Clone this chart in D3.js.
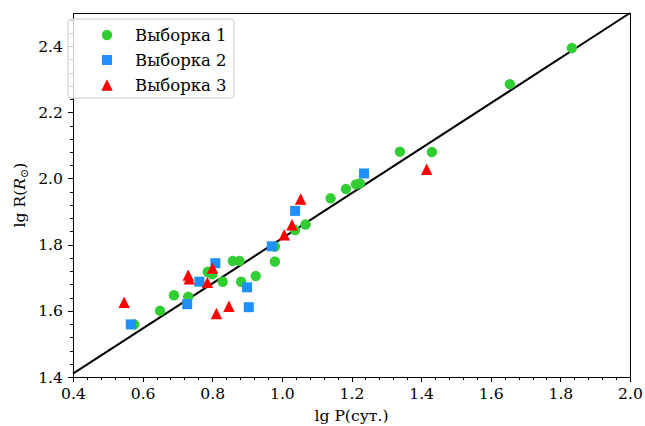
<!DOCTYPE html>
<html lang='ru'>
  <head>
    <meta charset='utf-8'>
    <title>lg R vs lg P</title>
    <script type='text/javascript' src='https://cdn.jsdelivr.net/npm/d3@7'></script>
    <style type='text/css'>
    body { margin: 0; background: #fff; }
    .axis path, .axis line {
      fill: none;
      stroke: black;
      shape-rendering: crispEdges;
    }
    </style>
  </head>
  <body>
    <script type='text/javascript'>

    // Выборка 1 (circles)
    var sample1 = [
      [1.833, 2.394], [1.655, 2.285], [1.339, 2.081], [1.431, 2.080],
      [1.140, 1.940], [1.184, 1.968], [1.213, 1.982], [1.224, 1.985],
      [1.038, 1.844], [1.068, 1.861], [0.980, 1.794], [0.980, 1.749],
      [0.925, 1.705], [0.859, 1.751], [0.878, 1.751], [0.883, 1.688],
      [0.830, 1.688], [0.800, 1.710], [0.787, 1.718], [0.650, 1.600],
      [0.690, 1.647], [0.731, 1.643], [0.576, 1.559]
    ];
    // Выборка 2 (squares)
    var sample2 = [
      [0.566, 1.559], [0.728, 1.620], [0.763, 1.688], [0.809, 1.744],
      [0.900, 1.671], [0.905, 1.611], [0.971, 1.795], [1.038, 1.902],
      [1.236, 2.015]
    ];
    // Выборка 3 (triangles)
    var sample3 = [
      [0.547, 1.626], [0.731, 1.708], [0.734, 1.697], [0.786, 1.686],
      [0.801, 1.729], [0.812, 1.592], [0.848, 1.614], [1.007, 1.830],
      [1.029, 1.860], [1.054, 1.938], [1.416, 2.028]
    ];
    var fitLine = [[0.4, 1.41], [2.0, 2.5]];

    var xTicks = [0.4, 0.6, 0.8, 1.0, 1.2, 1.4, 1.6, 1.8, 2.0];
    var yTicks = [1.4, 1.6, 1.8, 2.0, 2.2, 2.4];
    var legendNames = ['Выборка 1', 'Выборка 2', 'Выборка 3'];
    var colors = ['#32cd32', '#1e90ff', '#ff0000'];

    var w = 645;
    var h = 426;
    var padL = 73, padR = 630, padT = 13, padB = 377;
    var font = "'DejaVu Serif', serif";
    var fsize = '15.6px';

    var svg = d3.select('body')
                .append('svg')
                .attr('width', w)
                .attr('height', h);

    var xScale = d3.scaleLinear().domain([0.4, 2.0]).range([padL, padR]);
    var yScale = d3.scaleLinear().domain([1.4, 2.5]).range([padB, padT]);

    var xMinor = d3.range(0.4, 2.0001, 0.04);
    var yMinor = d3.range(1.4, 2.5001, 0.04);

    // minor ticks
    svg.append('g')
       .attr('class', 'x axis')
       .attr('transform', 'translate(0,' + padB + ')')
       .call(d3.axisBottom(xScale).tickValues(xMinor).tickSize(3).tickFormat(''))
       .select('.domain').remove();
    svg.append('g')
       .attr('class', 'y axis')
       .attr('transform', 'translate(' + padL + ',0)')
       .call(d3.axisLeft(yScale).tickValues(yMinor).tickSize(3).tickFormat(''))
       .select('.domain').remove();

    var xAxis = d3.axisBottom(xScale).tickValues(xTicks).tickSize(5).tickPadding(6)
                  .tickFormat(d3.format('.1f'));
    var yAxis = d3.axisLeft(yScale).tickValues(yTicks).tickSize(5).tickPadding(5)
                  .tickFormat(d3.format('.1f'));

    var gx = svg.append('g')
       .attr('class', 'x axis')
       .attr('transform', 'translate(0,' + padB + ')')
       .call(xAxis);
    gx.select('.domain').remove();
    var gy = svg.append('g')
       .attr('class', 'y axis')
       .attr('transform', 'translate(' + padL + ',0)')
       .call(yAxis);
    gy.select('.domain').remove();
    svg.selectAll('.axis text')
       .style('font-family', font)
       .style('font-size', fsize)
       .style('fill', 'black');

    var line = d3.line()
                 .x(function(d){ return xScale(d[0]); })
                 .y(function(d){ return yScale(d[1]); });

    svg.append('path')
       .datum(fitLine)
       .attr('d', line)
       .attr('fill', 'none')
       .attr('stroke', 'black')
       .attr('stroke-width', 2);

    var sym = [d3.symbolCircle, d3.symbolSquare];
    var sizes = [85, 100];
    var sets = [sample1, sample2, sample3];

    function triPath(s) {
      // triangle centred on its bounding box, like matplotlib '^'
      return 'M0,' + (-s) + 'L' + s + ',' + s + 'L' + (-s) + ',' + s + 'Z';
    }
    function markerPath(k) {
      return k === 2 ? triPath(5.7) : d3.symbol().type(sym[k]).size(sizes[k])();
    }

    sets.forEach(function(data, k){
      svg.append('g')
         .selectAll('path')
         .data(data)
         .enter()
         .append('path')
         .attr('transform', function(d){
           return 'translate(' + xScale(d[0]) + ',' + yScale(d[1]) + ')';
         })
         .attr('d', markerPath(k))
         .attr('fill', colors[k]);
    });

    // frame
    svg.append('rect')
       .attr('x', padL).attr('y', padT)
       .attr('width', padR - padL).attr('height', padB - padT)
       .attr('fill', 'none')
       .attr('stroke', 'black')
       .attr('stroke-width', 1)
       .attr('shape-rendering', 'crispEdges');

    // legend
    var lg = svg.append('g');
    lg.append('rect')
      .attr('x', 68).attr('y', 19)
      .attr('width', 166).attr('height', 79)
      .attr('rx', 3)
      .attr('fill', 'white')
      .attr('fill-opacity', 0.8)
      .attr('stroke', '#cccccc');
    legendNames.forEach(function(name, k){
      var cy = 35 + k * 25;
      lg.append('path')
        .attr('transform', 'translate(107,' + cy + ')')
        .attr('d', markerPath(k))
        .attr('fill', colors[k]);
      lg.append('text')
        .style('font-family', font)
        .style('font-size', '16.5px')
        .attr('x', 135).attr('y', cy + 6)
        .text(name);
    });

    // axis labels
    svg.append('text')
       .style('font-family', font)
       .style('font-size', fsize)
       .attr('x', (padL + padR) / 2)
       .attr('y', 421)
       .attr('text-anchor', 'middle')
       .text('lg P(сут.)');

    var yl = svg.append('text')
       .style('font-family', font)
       .style('font-size', fsize)
       .attr('transform', 'translate(25,' + ((padT + padB) / 2) + ') rotate(-90)')
       .attr('text-anchor', 'middle');
    yl.append('tspan').text('lg R(');
    yl.append('tspan').attr('font-style', 'italic').text('R');
    yl.append('tspan').attr('font-size', '11px').attr('dy', 3).text('⊙');
    yl.append('tspan').attr('dy', -3).text(')');

    </script>
  </body>
</html>
